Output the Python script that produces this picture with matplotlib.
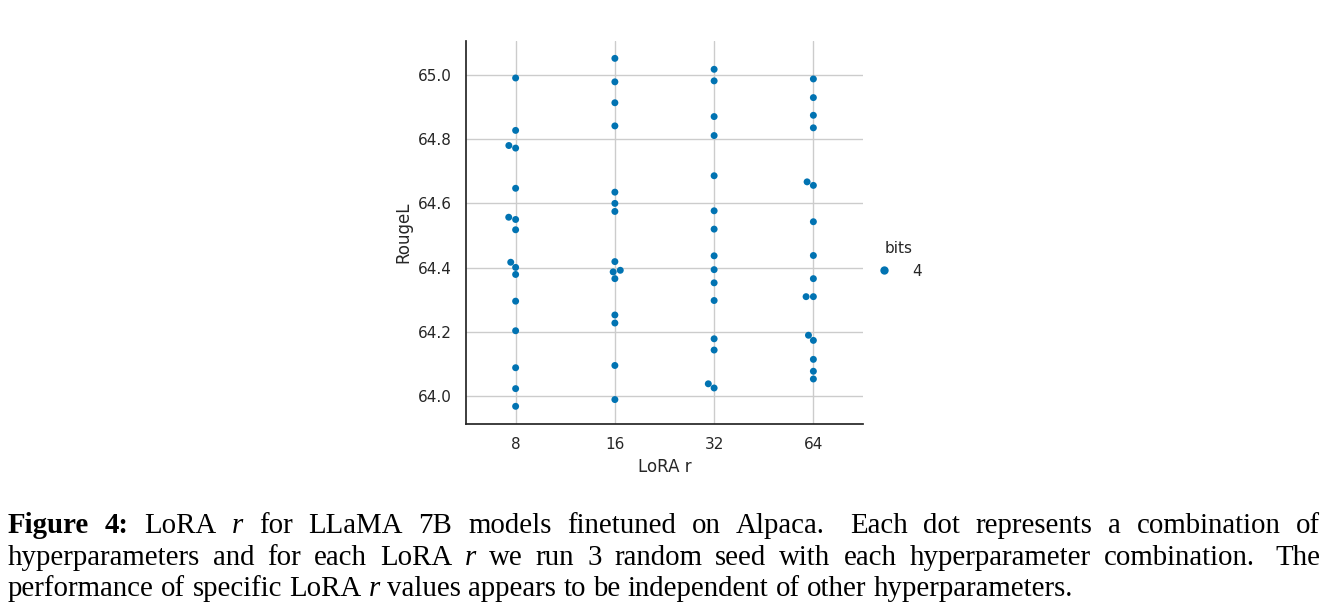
import matplotlib
matplotlib.use("Agg")
import matplotlib.pyplot as plt
import seaborn as sns
import pandas as pd
from matplotlib.lines import Line2D
from matplotlib.transforms import IdentityTransform

# ---------------- data ----------------
lora_r_labels = ["8", "16", "32", "64"]
rouge_r8 = [64.990, 64.827, 64.780, 64.772, 64.647, 64.557, 64.550, 64.518,
            64.417, 64.401, 64.379, 64.296, 64.204, 64.089, 64.024, 63.969]
rouge_r16 = [65.051, 64.978, 64.913, 64.841, 64.635, 64.600, 64.575, 64.419,
             64.387, 64.392, 64.366, 64.253, 64.228, 64.096, 63.990]
rouge_r32 = [65.017, 64.981, 64.870, 64.811, 64.686, 64.577, 64.520, 64.437,
             64.394, 64.353, 64.298, 64.179, 64.144, 64.039, 64.026]
rouge_r64 = [64.987, 64.929, 64.874, 64.835, 64.667, 64.656, 64.543, 64.438,
             64.366, 64.310, 64.310, 64.190, 64.174, 64.115, 64.078, 64.054]
bits_label = "4"
y_ticks = [64.0, 64.2, 64.4, 64.6, 64.8, 65.0]

caption_line1 = "LoRA r for LLaMA 7B models finetuned on Alpaca. Each dot represents a combination of"
caption_line2 = "hyperparameters and for each LoRA r we run 3 random seed with each hyperparameter combination. The"
caption_line3 = "performance of specific LoRA r values appears to be independent of other hyperparameters."

# ---------------- style ----------------
sns.set_theme(context="notebook", style="whitegrid")
plt.rcParams["font.family"] = ["DejaVu Sans"]
blue = "#0173b2"

W, H = 1325, 609
fig = plt.figure(figsize=(W / 100, H / 100), dpi=100)
ax = fig.add_axes([466 / W, (H - 424) / H, 397 / W, 383 / H])

series = [rouge_r8, rouge_r16, rouge_r32, rouge_r64]
rows = []
for lab, vals in zip(lora_r_labels, series):
    for v in vals:
        rows.append({"LoRA r": lab, "RougeL": v, "bits": bits_label})
df = pd.DataFrame(rows)

ax.set_ylim(63.914, 65.105)
sns.swarmplot(data=df, x="LoRA r", y="RougeL", hue="bits", order=lora_r_labels,
              hue_order=[bits_label], palette={bits_label: blue}, size=5,
              linewidth=0, ax=ax, legend=False)
ax.set_ylim(63.914, 65.105)
ax.set_xlim(-0.5, 3.5)
ax.set_yticks(y_ticks)
ax.set_yticklabels([f"{t:.1f}" for t in y_ticks])
ax.xaxis.grid(True, color=".8", linewidth=1)
ax.yaxis.grid(True, color=".8", linewidth=1)
ax.set_axisbelow(True)
for s in ["top", "right"]:
    ax.spines[s].set_visible(False)
for s in ["left", "bottom"]:
    ax.spines[s].set_color(".15")
    ax.spines[s].set_linewidth(1.25)
ax.tick_params(axis="x", length=0, pad=9.5, labelsize=11, colors=".15")
ax.tick_params(axis="y", length=0, pad=10, labelsize=11, colors=".15")
ax.set_xlabel("LoRA r", fontsize=12, color=".15", labelpad=4)
ax.set_ylabel("RougeL", fontsize=12, color=".15")

handle = Line2D([], [], marker="o", linestyle="", color=blue, markersize=6,
                markeredgewidth=0)
leg = fig.legend([handle], [bits_label], title="bits", loc="center left",
                 bbox_to_anchor=(861 / W, (H - 260) / H), frameon=False,
                 fontsize=11, title_fontsize=11, handletextpad=1.25,
                 handlelength=1.2)
for t in leg.get_texts():
    t.set_color(".15")
leg.get_title().set_color(".15")

# ---------------- caption ----------------
renderer = fig.canvas.get_renderer()
cap_family = "Liberation Serif"


def make_parts(words, bold_prefix=False):
    parts = []
    if bold_prefix:
        parts += [("Figure", "bold", "normal"), ("4:", "bold", "normal")]
    for w in words.split(" "):
        parts.append((w, "normal", "italic" if w == "r" else "normal"))
    return parts


def build(parts, size):
    arts = []
    for w, wt, st in parts:
        t = fig.text(0, 0, w, transform=IdentityTransform(), fontsize=size,
                     family=cap_family, fontweight=wt, fontstyle=st,
                     va="baseline", ha="left", color="black")
        arts.append(t)
    widths = [t.get_window_extent(renderer).width for t in arts]
    return arts, widths


def place(parts, y_top, x0, x1, size, justify):
    arts, widths = build(parts, size)
    base = 0.25 * size * 100 / 72
    weights = [1.6 if p[0].endswith(".") else 1.0 for p in parts[:-1]]
    if justify:
        unit = (x1 - x0 - sum(widths)) / sum(weights)
    else:
        unit = base
    x = x0
    for i, (t, w) in enumerate(zip(arts, widths)):
        t.set_position((x, H - y_top))
        if i < len(weights):
            x += w + unit * weights[i]


# fit font size so the last line spans like in the reference
p3 = make_parts(caption_line3)
tmp, wd = build(p3, 10)
nat = sum(wd) + 0.25 * 10 * 100 / 72 * (len(wd) - 1)
for t in tmp:
    t.remove()
cap_size = 10 * 1064 / nat

place(make_parts(caption_line1, bold_prefix=True), 533, 8, 1320, cap_size, True)
place(make_parts(caption_line2), 565, 8, 1320, cap_size, True)
place(p3, 596, 8, 1320, cap_size, False)

fig.savefig("out.png", dpi=100)
